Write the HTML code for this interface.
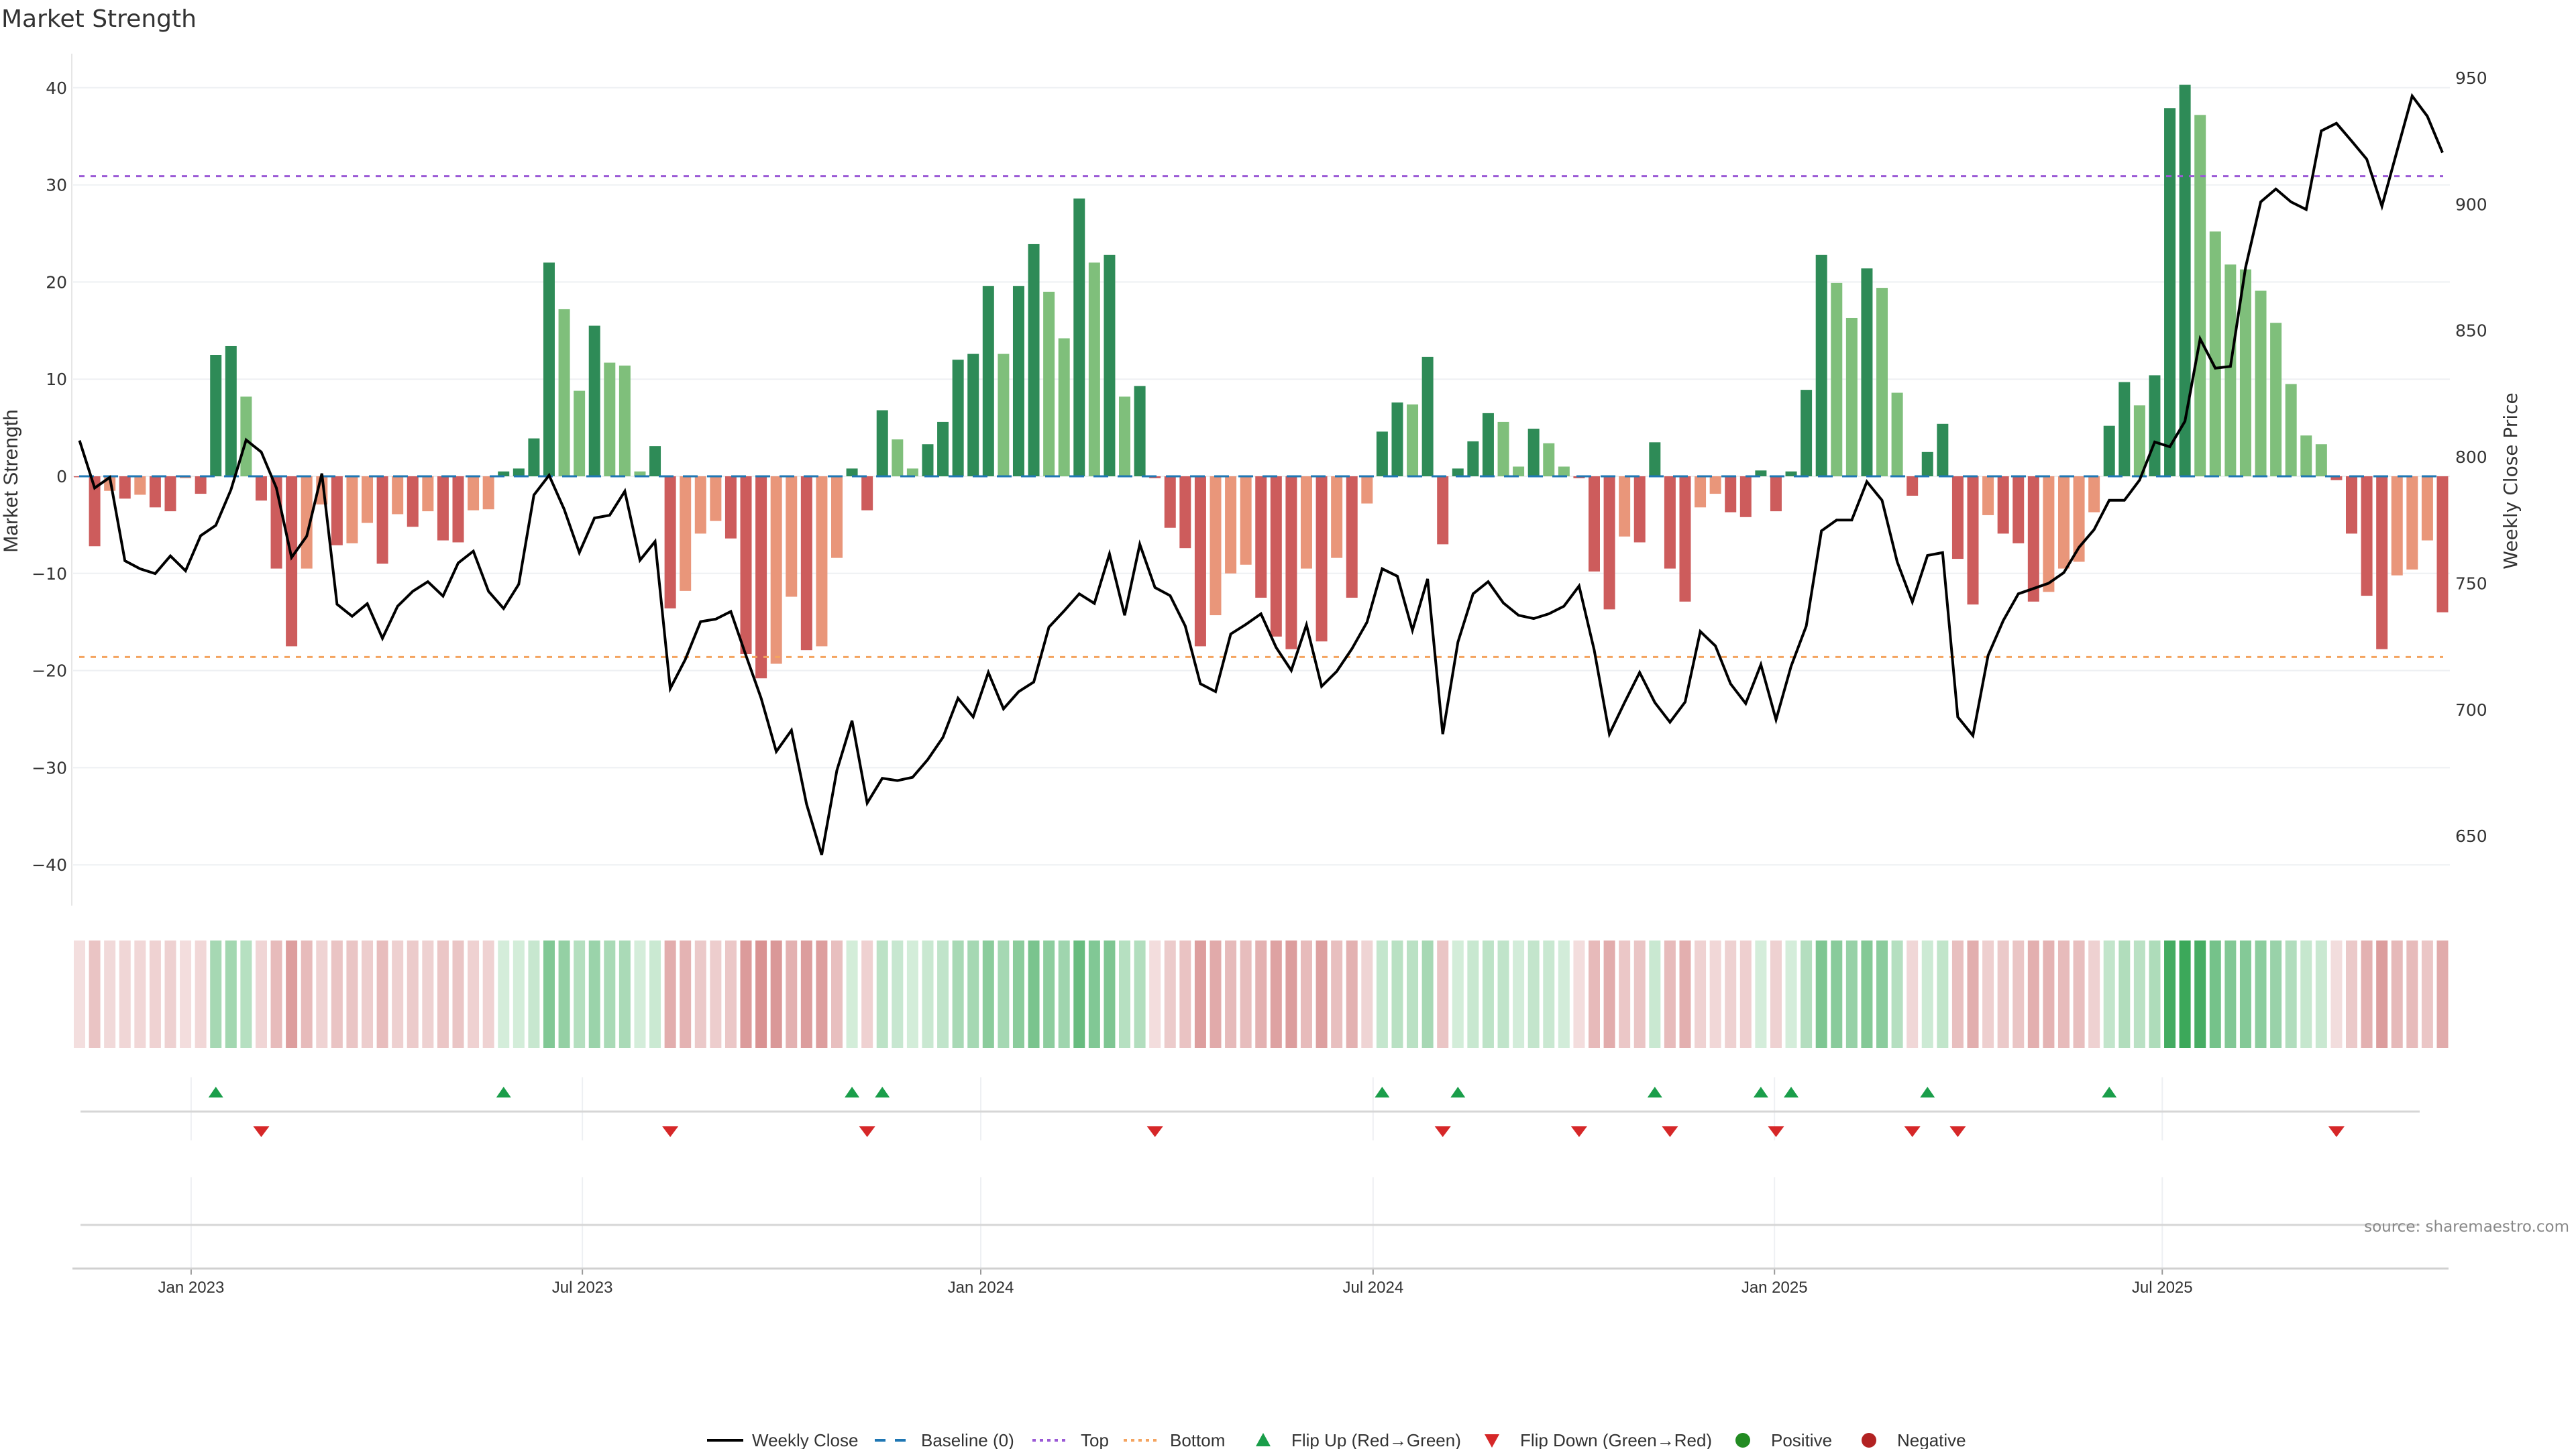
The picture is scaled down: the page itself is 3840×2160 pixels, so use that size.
<!DOCTYPE html>
<html><head><meta charset="utf-8"><title>Market Strength</title>
<style>
html,body{margin:0;padding:0;background:#fff;}
svg{display:block;}
</style></head>
<body>
<svg id="chart" width="3840" height="2160" viewBox="0 0 3840 2160" xmlns="http://www.w3.org/2000/svg">
<text x="2" y="40" font-family="DejaVu Sans, sans-serif" font-size="36" fill="#333">Market Strength</text>
<g id="g"></g>
</svg>
<script>
const strength = [-0.1,-7.2,-1.5,-2.3,-1.9,-3.2,-3.6,-0.2,-1.8,12.5,13.4,8.2,-2.5,-9.5,-17.5,-9.5,-2.9,-7.1,-6.9,-4.8,-9.0,-3.9,-5.2,-3.6,-6.6,-6.8,-3.5,-3.4,0.5,0.8,3.9,22.0,17.2,8.8,15.5,11.7,11.4,0.5,3.1,-13.6,-11.8,-5.9,-4.6,-6.4,-18.3,-20.8,-19.3,-12.4,-17.9,-17.5,-8.4,0.8,-3.5,6.8,3.8,0.8,3.3,5.6,12.0,12.6,19.6,12.6,19.6,23.9,19.0,14.2,28.6,22.0,22.8,8.2,9.3,-0.2,-5.3,-7.4,-17.5,-14.3,-10.0,-9.1,-12.5,-16.5,-17.8,-9.5,-17.0,-8.4,-12.5,-2.8,4.6,7.6,7.4,12.3,-7.0,0.8,3.6,6.5,5.6,1.0,4.9,3.4,1.0,-0.2,-9.8,-13.7,-6.2,-6.8,3.5,-9.5,-12.9,-3.2,-1.8,-3.7,-4.2,0.6,-3.6,0.5,8.9,22.8,19.9,16.3,21.4,19.4,8.6,-2.0,2.5,5.4,-8.5,-13.2,-4.0,-5.9,-6.9,-12.9,-11.9,-9.5,-8.8,-3.7,5.2,9.7,7.3,10.4,37.9,40.3,37.2,25.2,21.8,21.3,19.1,15.8,9.5,4.2,3.3,-0.4,-5.9,-12.3,-17.8,-10.2,-9.6,-6.6,-14.0];
const closes = [806.5,787.7,791.9,758.9,755.7,753.8,760.8,754.9,768.8,772.9,787,806.7,801.9,787.7,760.2,768.6,793.4,741.7,736.9,741.9,728.2,740.9,746.8,750.6,744.9,758.0,762.7,746.8,740.0,749.6,784.9,792.7,779.2,762.1,775.8,776.9,786.4,759.1,766.5,708.3,719.9,734.8,735.8,738.8,721.4,704.5,683.4,691.8,662.6,642.5,675.9,695.6,663.0,672.8,671.9,673.2,680.2,689.0,704.5,697.1,714.7,700.3,707.1,710.9,732.6,739.0,745.8,742.0,761.6,737.3,765.4,748.3,745.1,733.1,710.2,707.1,729.9,733.7,737.9,724.6,715.5,733.5,709.2,715.1,724.0,734.6,755.7,752.8,731.4,751.7,690.3,726.7,745.8,750.6,742.2,737.3,736.0,737.9,740.9,748.9,723.5,690.3,702.8,714.7,702.8,695.0,703.0,730.9,725.2,710.2,702.4,717.8,696.0,717.2,733.1,770.7,775.0,775.0,790.2,782.8,758.5,742.6,761.0,762.1,697.1,689.7,721.4,735.2,745.8,747.9,750.0,754.2,764.2,771.2,782.8,782.8,790.8,805.9,804.0,814.1,846.7,835.1,835.8,874.9,900.9,906.0,900.9,897.9,929.0,932.0,925.0,917.8,899.2,921.0,942.8,934.8,920.4];
const leftTicks = [40,30,20,10,0,-10,-20,-30,-40];
const rightTicks = [950,900,850,800,750,700,650];
const topLevel = [30.9];
const bottomLevel = [-18.6];
const dateLabels = ["Jan 2023","Jul 2023","Jan 2024","Jul 2024","Jan 2025","Jul 2025"];
const dateWeeks = [7.37,33.2,59.5,85.4,111.9,137.5];

const NS="http://www.w3.org/2000/svg";
const G=document.getElementById('g');
function mk(tag,attrs,parent){const e=document.createElementNS(NS,tag);for(const k in attrs)e.setAttribute(k,attrs[k]);(parent||G).appendChild(e);return e;}
const xW=i=>118.5+22.58*i;
const yL=v=>710-14.48*v;
const yR=p=>116+(950-p)*3.767;
const BW=17;

// left axis spine
let e;
e=mk('line',{x1:107,y1:80,x2:107,y2:1350,stroke:'#e6e6e6','stroke-width':2});


// gridlines + left ticks
leftTicks.forEach(t=>{
  e=mk('line',{x1:109,x2:3652,y1:yL(t),y2:yL(t),stroke:'#eef0f3','stroke-width':2});
  
  
  e=mk('text',{x:100,y:yL(t)+9,'text-anchor':'end','font-family':'DejaVu Sans, sans-serif','font-size':25,fill:'#333'});
  e.textContent=(t<0?'\u2212':'')+Math.abs(t);
  
  
});
rightTicks.forEach(t=>{
  e=mk('text',{x:3660,y:yR(t)+9,'font-family':'DejaVu Sans, sans-serif','font-size':25,fill:'#333'});
  e.textContent=t;
  
  
});
e=mk('text',{x:0,y:0,transform:'translate(26,717) rotate(-90)','text-anchor':'middle','font-family':'Liberation Sans Narrow, Liberation Sans, sans-serif','font-size':30,fill:'#333'});
e.textContent='Market Strength';


e=mk('text',{x:0,y:0,transform:'translate(3752,717) rotate(-90)','text-anchor':'middle','font-family':'DejaVu Sans, sans-serif','font-size':28,fill:'#333'});
e.textContent='Weekly Close Price';



// bars
strength.forEach((v,i)=>{
  const prev=i>0?strength[i-1]:0;
  let c;
  if(v>=0) c=(v>=prev)?'#2e8b57':'#7fbf7b';
  else c=(v<prev)?'#cd5c5c':'#e9967a';
  const y0=yL(0),y1=yL(v);
  e=mk('rect',{x:xW(i)-BW/2,y:Math.min(y0,y1),width:BW,height:Math.max(0.5,Math.abs(y1-y0)),fill:c});
  
  
});
// baseline
e=mk('line',{x1:118,x2:3642,y1:yL(0),y2:yL(0),stroke:'#1f77b4','stroke-width':3,'stroke-dasharray':'22 14'});


e=mk('line',{x1:118,x2:3642,y1:yL(topLevel[0]),y2:yL(topLevel[0]),stroke:'#9b59d6','stroke-width':3,'stroke-dasharray':'8 9'});


e=mk('line',{x1:118,x2:3642,y1:yL(bottomLevel[0]),y2:yL(bottomLevel[0]),stroke:'#f4a460','stroke-width':3,'stroke-dasharray':'8 9'});


// close line
e=mk('polyline',{points:closes.map((p,i)=>xW(i).toFixed(1)+','+yR(p).toFixed(1)).join(' '),fill:'none',stroke:'#000','stroke-width':4,'stroke-linejoin':'miter'});



// heatmap
function heat(v){
  if(v>=0){const t=Math.min(1,v/40);return `rgb(${Math.round(214-154*t)},${Math.round(238-70*t)},${Math.round(220-130*t)})`;}
  const t=Math.min(1,-v/22);return `rgb(${Math.round(243-28*t)},${Math.round(222-80*t)},${Math.round(222-80*t)})`;
}
strength.forEach((v,i)=>{
  e=mk('rect',{x:xW(i)-BW/2,y:1402,width:BW,height:160,fill:heat(v)});
  
  
});
// date grid lines and flip panels
dateWeeks.forEach((w,k)=>{
  const x=xW(w);
  e=mk('line',{x1:x,x2:x,y1:1606,y2:1700,stroke:'#eef0f3','stroke-width':2});
  
  
  e=mk('line',{x1:x,x2:x,y1:1755,y2:1890,stroke:'#eef0f3','stroke-width':2});
  
  
  e=mk('line',{x1:x,x2:x,y1:1890,y2:1900,stroke:'#999','stroke-width':2});
  
  
  e=mk('text',{x:x,y:1927,'text-anchor':'middle','font-family':'Liberation Sans Narrow, Liberation Sans, sans-serif','font-size':24,fill:'#333'});
  e.textContent=dateLabels[k];
  
  
});
e=mk('line',{x1:120,x2:3607,y1:1657,y2:1657,stroke:'#d6d6d6','stroke-width':3});


e=mk('line',{x1:120,x2:3607,y1:1826,y2:1826,stroke:'#d6d6d6','stroke-width':3});


e=mk('line',{x1:108,x2:3650,y1:1891,y2:1891,stroke:'#d0d0d0','stroke-width':3});


// flips
for(let i=1;i<strength.length;i++){
  const a=strength[i-1],b=strength[i],x=xW(i);
  if(a<0&&b>=0){
    e=mk('polygon',{points:`${x-11},1636 ${x+11},1636 ${x},1620`,fill:'#1a9e4a'});
    
    
  } else if(a>=0&&b<0){
    e=mk('polygon',{points:`${x-12},1679 ${x+12},1679 ${x},1695`,fill:'#d62728'});
    
    
  }
}
e=mk('text',{x:3830,y:1836,'text-anchor':'end','font-family':'DejaVu Sans, sans-serif','font-size':23,fill:'#888'});
e.textContent='source: sharemaestro.com';



// legend
const LY=2147;
const lg=mk('g',{});


function ltext(x,s,name){const t=mk('text',{x:x,y:LY+9,'font-family':'Liberation Sans Narrow, Liberation Sans, sans-serif','font-size':26,fill:'#333'},lg);t.textContent=s;}
e=mk('line',{x1:1054,x2:1108,y1:LY,y2:LY,stroke:'#000','stroke-width':4},lg);


ltext(1121,'Weekly Close','legend-weekly-close');
e=mk('line',{x1:1304,x2:1358,y1:LY,y2:LY,stroke:'#1f77b4','stroke-width':4,'stroke-dasharray':'16 14'},lg);


ltext(1373,'Baseline (0)','legend-baseline');
e=mk('line',{x1:1539,x2:1591,y1:LY,y2:LY,stroke:'#9b59d6','stroke-width':4,'stroke-dasharray':'5 6'},lg);


ltext(1611,'Top','legend-top');
e=mk('line',{x1:1675,x2:1729,y1:LY,y2:LY,stroke:'#f4a460','stroke-width':4,'stroke-dasharray':'5 6'},lg);


ltext(1744,'Bottom','legend-bottom');
e=mk('polygon',{points:`1872,${LY+9} 1894,${LY+9} 1883,${LY-11}`,fill:'#1a9e4a'},lg);


ltext(1925,'Flip Up (Red\u2192Green)','legend-flip-up');
e=mk('polygon',{points:`2213,${LY-9} 2235,${LY-9} 2224,${LY+11}`,fill:'#d62728'},lg);


ltext(2266,'Flip Down (Green\u2192Red)','legend-flip-down');
e=mk('circle',{cx:2598,cy:LY,r:11,fill:'#228b22'},lg);


ltext(2640,'Positive','legend-positive');
e=mk('circle',{cx:2786,cy:LY,r:11,fill:'#b22222'},lg);


ltext(2828,'Negative','legend-negative');
</script>
</body></html>
